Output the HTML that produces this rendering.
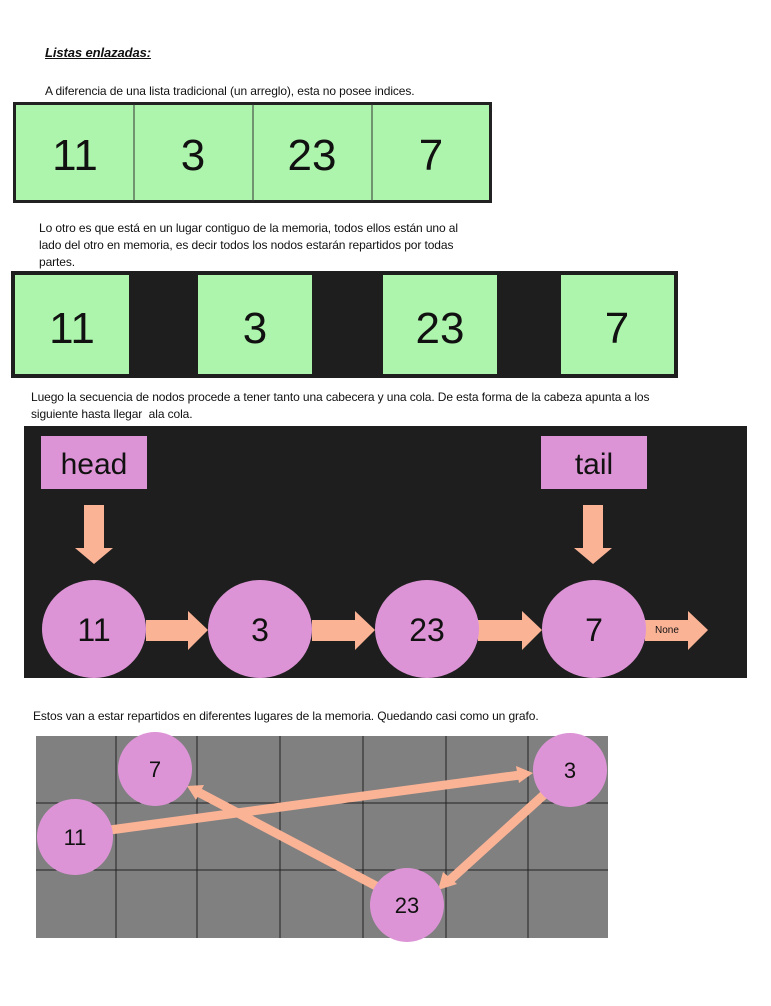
<!DOCTYPE html>
<html><head><meta charset="utf-8"><style>
body{margin:0;width:771px;height:1006px;background:#fff;position:relative;font-family:"Liberation Sans",sans-serif;overflow:hidden}
.t{position:absolute;font-size:12px;color:#111;line-height:16px;white-space:nowrap;letter-spacing:-0.1px}
</style></head><body>
<div class="t" style="left:45px;top:45px;font-size:13px;font-weight:bold;font-style:italic;text-decoration:underline">Listas enlazadas:</div>
<div class="t" style="left:45px;top:83px">A diferencia de una lista tradicional (un arreglo), esta no posee indices.</div>
<div class="t" style="left:39px;top:220px;line-height:17px">Lo otro es que está en un lugar contiguo de la memoria, todos ellos están uno al<br>lado del otro en memoria, es decir todos los nodos estarán repartidos por todas<br>partes.</div>
<div class="t" style="left:31px;top:389px;line-height:17px">Luego la secuencia de nodos procede a tener tanto una cabecera y una cola. De esta forma de la cabeza apunta a los<br>siguiente hasta llegar&nbsp; ala cola.</div>
<div class="t" style="left:33px;top:708px">Estos van a estar repartidos en diferentes lugares de la memoria. Quedando casi como un grafo.</div>
<svg width="771" height="1006" style="position:absolute;left:0;top:0" font-family="Liberation Sans, sans-serif">
<rect x="14.5" y="103.5" width="476" height="98" fill="#adf5ad" stroke="#222" stroke-width="3"/>
<g stroke="#333" stroke-width="1"><line x1="134" y1="104" x2="134" y2="201"/><line x1="253" y1="104" x2="253" y2="201"/><line x1="372" y1="104" x2="372" y2="201"/></g>
<g font-size="44" fill="#111" text-anchor="middle"><text x="75" y="170">11</text><text x="193" y="170">3</text><text x="312" y="170">23</text><text x="431" y="170">7</text></g>
<rect x="11" y="271" width="667" height="107" fill="#1e1e1e"/>
<g fill="#adf5ad"><rect x="15" y="275" width="114" height="99"/><rect x="198" y="275" width="114" height="99"/><rect x="383" y="275" width="114" height="99"/><rect x="561" y="275" width="113" height="99"/></g>
<g font-size="44" fill="#111" text-anchor="middle"><text x="72" y="343">11</text><text x="255" y="343">3</text><text x="440" y="343">23</text><text x="617" y="343">7</text></g>
<rect x="24" y="426" width="723" height="252" fill="#1e1e1e"/>
<rect x="41" y="436" width="106" height="53" fill="#dd94d6"/>
<rect x="541" y="436" width="106" height="53" fill="#dd94d6"/>
<g font-size="30" fill="#111" text-anchor="middle"><text x="94" y="474">head</text><text x="594" y="474">tail</text></g>
<g fill="#fbb396">
<polygon points="84,505 104,505 104,548 113,548 94,564 75,548 84,548"/>
<polygon points="583,505 603,505 603,548 612,548 593,564 574,548 583,548"/>
<polygon points="146,620 188,620 188,611 208,630 188,650 188,641 146,641"/>
<polygon points="312,620 355,620 355,611 375,630 355,650 355,641 312,641"/>
<polygon points="478,620 522,620 522,611 542,630 522,650 522,641 478,641"/>
<polygon points="645,620 688,620 688,611 708,630 688,650 688,641 645,641"/>
</g>
<g fill="#dd94d6"><ellipse cx="94" cy="629" rx="52" ry="49"/><ellipse cx="260" cy="629" rx="52" ry="49"/><ellipse cx="427" cy="629" rx="52" ry="49"/><ellipse cx="594" cy="629" rx="52" ry="49"/></g>
<g font-size="32" fill="#111" text-anchor="middle"><text x="94" y="641">11</text><text x="260" y="641">3</text><text x="427" y="641">23</text><text x="594" y="641">7</text></g>
<text x="655" y="633" font-size="10" fill="#111">None</text>
<rect x="36" y="736" width="572" height="202" fill="#808080"/>
<g stroke="#222" stroke-width="1"><line x1="116" y1="736" x2="116" y2="938"/><line x1="197" y1="736" x2="197" y2="938"/><line x1="280" y1="736" x2="280" y2="938"/><line x1="363" y1="736" x2="363" y2="938"/><line x1="446" y1="736" x2="446" y2="938"/><line x1="528" y1="736" x2="528" y2="938"/><line x1="36" y1="803" x2="608" y2="803"/><line x1="36" y1="870" x2="608" y2="870"/></g>
<g stroke="#fbb396" stroke-width="9" fill="none"><line x1="110" y1="830" x2="520" y2="775"/><line x1="378" y1="887" x2="198" y2="792"/><line x1="547" y1="792" x2="450" y2="880"/></g>
<g fill="#fbb396"><polygon points="533,773 516,766 519,783"/><polygon points="187,786 204,785 196,800"/><polygon points="438,890 443,872 457,884"/></g>
<g fill="#dd94d6"><circle cx="155" cy="769" r="37"/><circle cx="570" cy="770" r="37"/><circle cx="75" cy="837" r="38"/><circle cx="407" cy="905" r="37"/></g>
<g font-size="22" fill="#111" text-anchor="middle"><text x="155" y="777">7</text><text x="570" y="778">3</text><text x="75" y="845">11</text><text x="407" y="913">23</text></g>
</svg>
</body></html>
